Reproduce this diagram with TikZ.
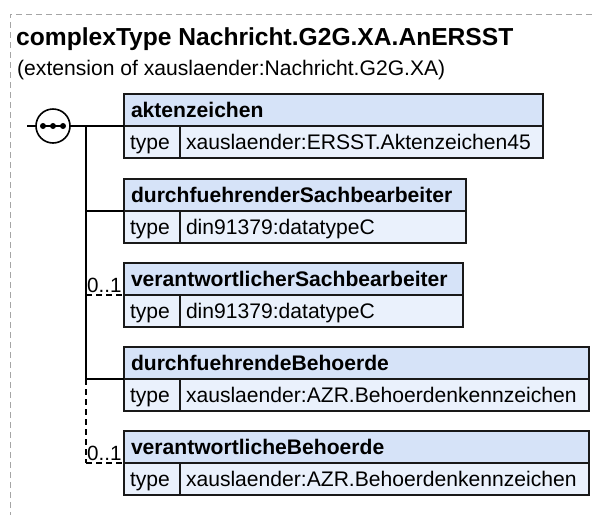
\documentclass[tikz,border=0pt]{standalone}
\usepackage{fontspec}
\setmainfont{Liberation Sans}
\usepackage{xcolor}
\usetikzlibrary{positioning, shadows}
\definecolor{HeadBlue}{RGB}{214,227,248}
\definecolor{TypeBlue}{RGB}{234,241,252}
\definecolor{LineDark}{RGB}{25,25,25}
\definecolor{FrameGray}{RGB}{165,165,165}

\begin{document}
\begin{tikzpicture}[x=1pt, y=-1pt,
          cell/.style={draw=LineDark, line width=1.6pt, anchor=north west, outer sep=0pt,
                       minimum height=32pt, inner ysep=0pt, text height=15.5pt, text depth=0.5pt,
                       align=left, font=\fontsize{21.1}{24}\selectfont,
                       drop shadow={shadow xshift=1.3pt, shadow yshift=-1.3pt, fill=black!35, opacity=1}},
          head/.style={cell, fill=HeadBlue, inner xsep=7pt, font=\fontsize{21.1}{24}\selectfont\bfseries},
          tkey/.style={cell, fill=TypeBlue, inner xsep=6pt, text width=44pt},
          tval/.style={cell, fill=TypeBlue, inner xsep=6pt},
          conn/.style={draw=black, line width=1.6pt},
          opt/.style={conn, dash pattern=on 6pt off 4pt},
          card/.style={anchor=base west, inner sep=0pt, font=\fontsize{20.6}{24}\selectfont}
        ]
        \useasboundingbox (0,0) rectangle (592,515);
        \draw[FrameGray, line width=1pt, dash pattern=on 6pt off 4pt] (592,14) -- (10,14) -- (10,515);

        \node[anchor=base west, inner sep=0pt, font=\fontsize{24.6}{28}\selectfont\bfseries]
              (title) at (16,45) {complexType Nachricht.G2G.XA.AnERSST};
        \node[anchor=base west, inner sep=0pt, font=\fontsize{21.1}{24}\selectfont]
              (subtitle) at (17,75) {(extension of xauslaender:Nachricht.G2G.XA)};

        \node[head, text width=405pt] (akz) at (124,94) {aktenzeichen};
        \node[tkey] (akzT) at (akz.south west) {type};
        \node[tval, text width=351pt] (akzV) at (akzT.north east) {xauslaender:ERSST.Aktenzeichen45};

        \node[head, text width=328pt] (dsb) at (124,179) {durchfuehrenderSachbearbeiter};
        \node[tkey] (dsbT) at (dsb.south west) {type};
        \node[tval, text width=274pt] (dsbV) at (dsbT.north east) {din91379:datatypeC};

        \node[head, text width=325pt] (vsb) at (124,263) {verantwortlicherSachbearbeiter};
        \node[tkey] (vsbT) at (vsb.south west) {type};
        \node[tval, text width=271pt] (vsbV) at (vsbT.north east) {din91379:datatypeC};

        \node[head, text width=451pt] (dbe) at (124,347) {durchfuehrendeBehoerde};
        \node[tkey] (dbeT) at (dbe.south west) {type};
        \node[tval, text width=397pt] (dbeV) at (dbeT.north east) {xauslaender:AZR.Behoerdenkennzeichen};

        \node[head, text width=451pt] (vbe) at (124,431) {verantwortlicheBehoerde};
        \node[tkey] (vbeT) at (vbe.south west) {type};
        \node[tval, text width=397pt] (vbeV) at (vbeT.north east) {xauslaender:AZR.Behoerdenkennzeichen};

        \coordinate (seqIn) at (27,126);
        \coordinate (trunk) at (86,126);

        \draw[conn] (seqIn) -- (akz.south west);
        \draw[conn] (trunk) -- (trunk |- dbe.south west);
        \draw[opt]  (trunk |- dbe.south west) -- (trunk |- vbe.south west);
        \draw[conn] (trunk |- dsb.south west) -- (dsb.south west);
        \draw[opt]  (trunk |- vsb.south west) -- (vsb.south west);
        \draw[conn] (trunk |- dbe.south west) -- (dbe.south west);
        \draw[opt]  (trunk |- vbe.south west) -- (vbe.south west);

        \node[card] (vsbCard) at (87,292) {0..1};
        \node[card] (vbeCard) at (87,460) {0..1};

        \node[circle, draw=black, line width=1.6pt, fill=white, minimum size=34pt, inner sep=0pt]
              (seq) at (53,126) {};
        \draw[line width=1.2pt] ([xshift=-12pt]seq.center) -- ([xshift=12pt]seq.center);
        \foreach \dx in {-10,0,10}
          \fill ([xshift=\dx pt]seq.center) circle (3pt);
      \end{tikzpicture}
\end{document}
